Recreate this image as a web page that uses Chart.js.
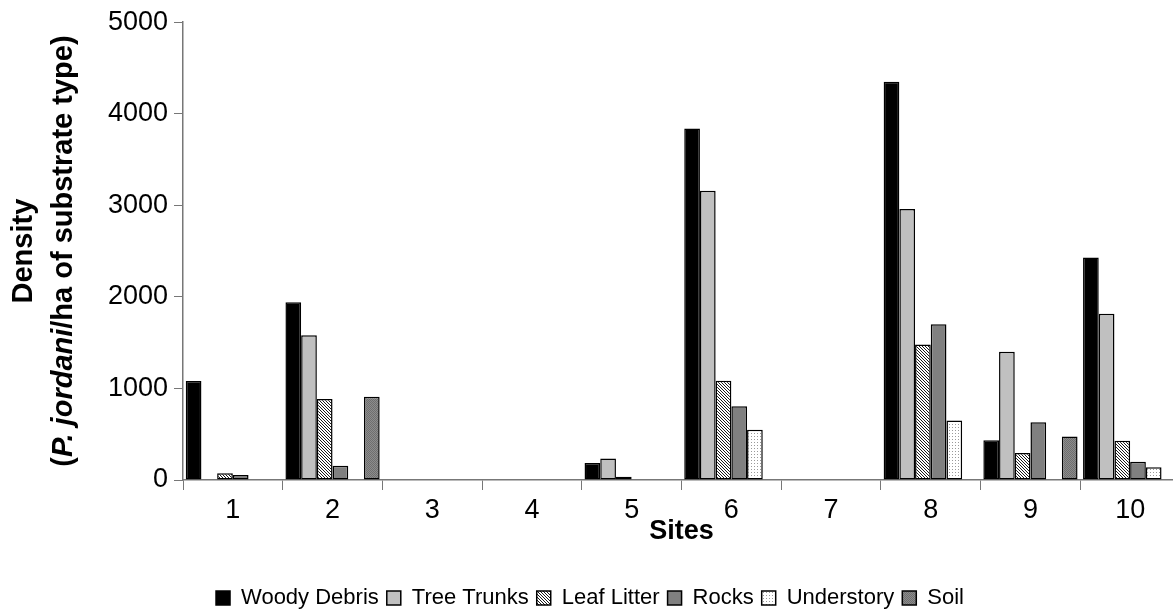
<!DOCTYPE html>
<html>
<head>
<meta charset="utf-8">
<script src="https://cdn.jsdelivr.net/npm/chart.js@4.4.0/dist/chart.umd.min.js"></script>
<style>
  html, body { margin: 0; padding: 0; background: #fff; overflow: hidden; }
  #wrap { width: 1180px; height: 614px; }
</style>
</head>
<body>
<div id="wrap"><canvas id="densityChart" width="1180" height="614"></canvas></div>
<script>
// Valeurs (densité par site et par substrat)
const sites = ['1', '2', '3', '4', '5', '6', '7', '8', '9', '10'];
const woodyDebris = [1080, 1940, 0, 0, 185, 3840, 0, 4350, 435, 2430];
const treeTrunks  = [0, 1580, 0, 0, 235, 3160, 0, 2960, 1400, 1815];
const leafLitter  = [75, 885, 0, 0, 35, 1085, 0, 1480, 295, 430];
const rocks       = [55, 155, 0, 0, 0, 805, 0, 1700, 630, 200];
const understory  = [0, 0, 0, 0, 0, 550, 0, 650, 0, 140];
const soil        = [0, 910, 0, 0, 0, 0, 0, 0, 475, 0];
const yMax = 5000;
const yStep = 1000;

const FONT = "'Liberation Sans', Arial, sans-serif";

// petits motifs de remplissage façon Excel
function makePattern(size, bg, fg, pixels) {
    const c = document.createElement('canvas');
    c.width = size; c.height = size;
    const g = c.getContext('2d');
    g.fillStyle = bg;
    g.fillRect(0, 0, size, size);
    g.fillStyle = fg;
    pixels.forEach(p => g.fillRect(p[0], p[1], 1, 1));
    return g.createPattern(c, 'repeat');
}

const leafPattern = makePattern(3, '#ffffff', '#1a1a1a', [[0,0],[1,1],[2,2]]);
const understoryPattern = makePattern(3, '#ffffff', '#9a9a9a', [[1,1]]);
const soilPattern = makePattern(2, '#8c8c8c', '#6e6e6e', [[0,0],[1,1]]);

// titre de l'axe Y sur deux lignes avec "P. jordani" en italique
const yTitlePlugin = {
    id: 'yTitle',
    afterDraw(chart) {
        const ctx = chart.ctx;
        const area = chart.chartArea;
        const cy = (area.top + area.bottom) / 2;
        ctx.save();
        ctx.fillStyle = '#000';
        ctx.textBaseline = 'middle';
        ctx.translate(24, cy);
        ctx.rotate(-Math.PI / 2);
        ctx.font = 'bold 29px ' + FONT;
        ctx.textAlign = 'center';
        ctx.fillText('Density', 0, 0);

        const parts = [
            { t: '(', f: 'bold 29px ' + FONT },
            { t: 'P. jordani', f: 'italic bold 29px ' + FONT },
            { t: '/ha of substrate type)', f: 'bold 29px ' + FONT }
        ];
        let total = 0;
        parts.forEach(p => { ctx.font = p.f; p.w = ctx.measureText(p.t).width; total += p.w; });
        let x = -total / 2;
        ctx.textAlign = 'left';
        parts.forEach(p => { ctx.font = p.f; ctx.fillText(p.t, x, 40); x += p.w; });
        ctx.restore();
    }
};

const common = { borderColor: '#000', borderWidth: 1.5, borderSkipped: false, categoryPercentage: 0.945, barPercentage: 1 };

const ctxDensity = document.getElementById('densityChart').getContext('2d');
const densityChart = new Chart(ctxDensity, {
    type: 'bar',
    data: {
        labels: sites,
        datasets: [
            { label: 'Woody Debris', data: woodyDebris, backgroundColor: '#000000', ...common },
            { label: 'Tree Trunks', data: treeTrunks, backgroundColor: '#c0c0c0', ...common },
            { label: 'Leaf Litter', data: leafLitter, backgroundColor: leafPattern, ...common },
            { label: 'Rocks', data: rocks, backgroundColor: '#808080', ...common },
            { label: 'Understory', data: understory, backgroundColor: understoryPattern, ...common },
            { label: 'Soil', data: soil, backgroundColor: soilPattern, ...common }
        ]
    },
    options: {
        responsive: false,
        animation: false,
        layout: { padding: { top: 12, right: 0, left: 0, bottom: -5 } },
        plugins: {
            legend: {
                display: true,
                position: 'bottom',
                labels: { boxWidth: 14, boxHeight: 14, padding: 8, color: '#000', font: { family: FONT, size: 22 } }
            },
            tooltip: { enabled: false }
        },
        scales: {
            x: {
                offset: true,
                afterFit: s => { s.height = 99; },
                grid: { display: true, offset: true, drawOnChartArea: false, color: '#777', tickLength: 10 },
                border: { color: '#777', width: 1.5 },
                ticks: { color: '#000', padding: 4, font: { family: FONT, size: 27 } },
                title: { display: true, text: 'Sites', color: '#000', padding: { top: 0, bottom: 31 }, font: { family: FONT, size: 27, weight: 'bold' } }
            },
            y: {
                min: 0,
                max: yMax,
                afterFit: s => { s.width = 183; },
                grid: { display: true, drawOnChartArea: false, color: '#777', tickLength: 9 },
                border: { color: '#777', width: 1.5 },
                ticks: { stepSize: yStep, color: '#000', padding: 6, font: { family: FONT, size: 27 }, callback: v => String(v) }
            }
        }
    },
    plugins: [yTitlePlugin]
});
</script>
</body>
</html>
